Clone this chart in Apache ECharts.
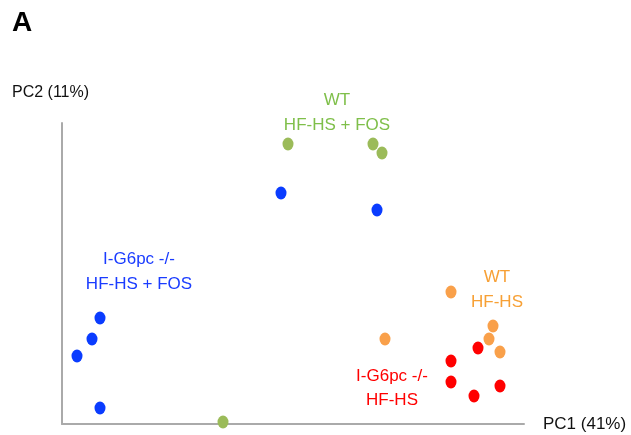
<!DOCTYPE html>
<html>
<head>
<meta charset="utf-8">
<script src="https://cdn.jsdelivr.net/npm/echarts@6/dist/echarts.min.js"></script>
<style>
html,body{margin:0;padding:0;background:#fff;}
#chart{width:631px;height:435px;}
</style>
</head>
<body>
<div id="chart"></div>
<script>
// PCA scores (arbitrary units along PC1 / PC2)
const koFosPC1 = [38, 30, 15, 38, 219, 315];
const koFosPC2 = [106, 85, 68, 16, 231, 214];
const wtFosPC1 = [226, 311, 320, 161];
const wtFosPC2 = [280, 280, 271, 2];
const wtPC1 = [389, 323, 431, 427, 438];
const wtPC2 = [132, 85, 98, 85, 72];
const koPC1 = [416, 389, 389, 412, 438];
const koPC2 = [76, 63, 42, 28, 38];

const pairs = (xs, ys) => xs.map((x, i) => [x, ys[i]]);
const font = 'Liberation Sans, Arial, Helvetica, sans-serif';

const chart = echarts.init(document.getElementById('chart'));
const mk = (name, xs, ys, color) => ({
  name, type: 'scatter', data: pairs(xs, ys),
  symbol: 'circle', symbolSize: [11, 13], clip: false,
  itemStyle: { color: color, opacity: 1 }
});
chart.setOption({
  animation: false,
  backgroundColor: '#ffffff',
  grid: { left: 62, top: 123, right: 107, bottom: 11 },
  xAxis: {
    type: 'value', min: 0, max: 462,
    axisLine: { show: true, lineStyle: { color: '#aaaaaa', width: 2 } },
    axisTick: { show: false }, axisLabel: { show: false }, splitLine: { show: false }
  },
  yAxis: {
    type: 'value', min: 0, max: 301,
    axisLine: { show: true, lineStyle: { color: '#aaaaaa', width: 2 } },
    axisTick: { show: false }, axisLabel: { show: false }, splitLine: { show: false }
  },
  series: [
    mk('I-G6pc -/- HF-HS + FOS', koFosPC1, koFosPC2, '#0a3cff'),
    mk('WT HF-HS + FOS', wtFosPC1, wtFosPC2, '#9bbb59'),
    mk('WT HF-HS', wtPC1, wtPC2, '#f9a04a'),
    mk('I-G6pc -/- HF-HS', koPC1, koPC2, '#ff0000')
  ],
  graphic: [
    { type: 'text', left: 12, top: 9, style: { text: 'A', font: 'bold 28px ' + font, fill: '#000' } },
    { type: 'text', x: 12, y: 93, style: { text: 'PC2 (11%)', font: '16px ' + font, fill: '#111', verticalAlign: 'middle' } },
    { type: 'text', x: 543, y: 424, style: { text: 'PC1 (41%)', font: '17px ' + font, fill: '#111', verticalAlign: 'middle' } },
    { type: 'text', x: 337, y: 113, style: { text: 'WT\nHF-HS + FOS', font: '17px ' + font, fill: '#7fbf4a', align: 'center', verticalAlign: 'middle', lineHeight: 25 } },
    { type: 'text', x: 139, y: 272, style: { text: 'I-G6pc -/-\nHF-HS + FOS', font: '17px ' + font, fill: '#1a3cff', align: 'center', verticalAlign: 'middle', lineHeight: 25 } },
    { type: 'text', x: 497, y: 290, style: { text: 'WT\nHF-HS', font: '17px ' + font, fill: '#f7a035', align: 'center', verticalAlign: 'middle', lineHeight: 25 } },
    { type: 'text', x: 392, y: 388, style: { text: 'I-G6pc -/-\nHF-HS', font: '17px ' + font, fill: '#ff0000', align: 'center', verticalAlign: 'middle', lineHeight: 24 } }
  ]
});
</script>
</body>
</html>
